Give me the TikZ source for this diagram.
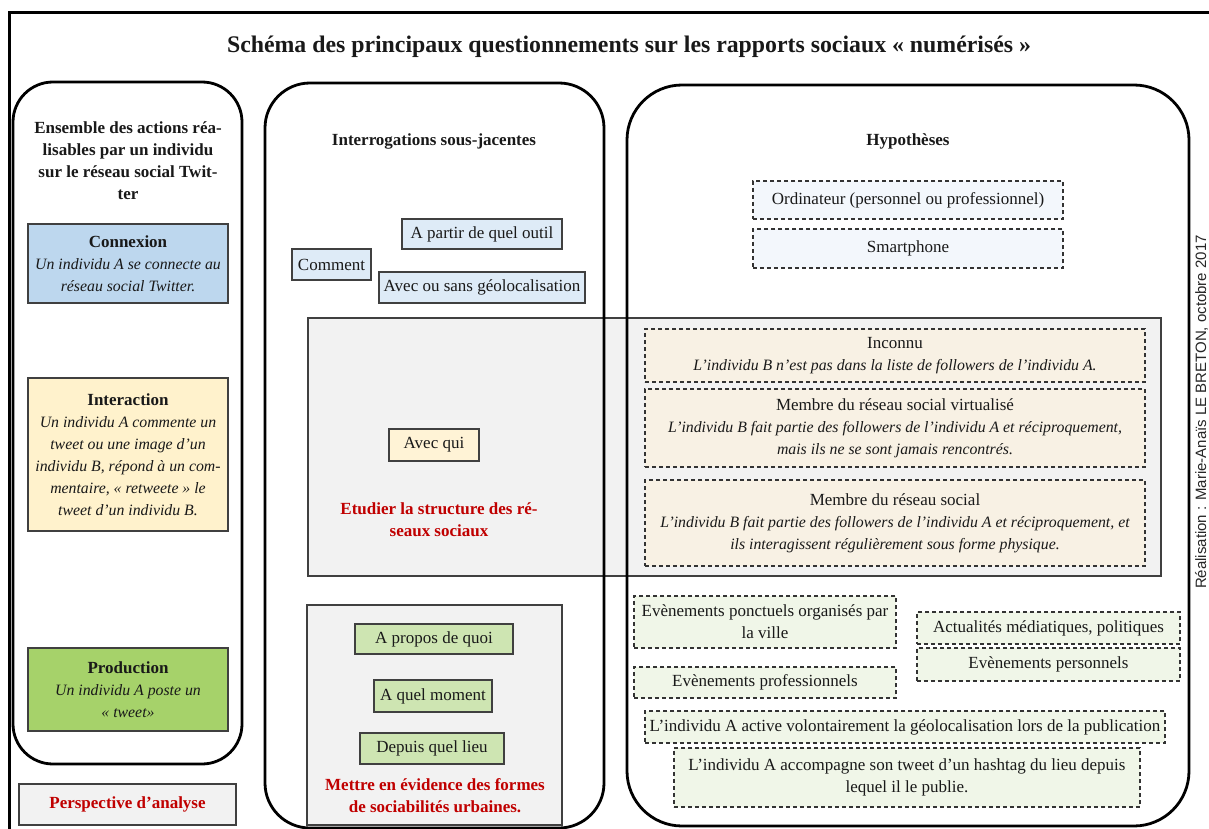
\documentclass[tikz,border=0pt]{standalone}
\usepackage{fontspec}
\setmainfont{Liberation Serif}
\newfontfamily\creditfont{Liberation Sans}
\newcommand\itl{\fontsize{15.8}{22}\selectfont\itshape}
\definecolor{cnx}{RGB}{189,215,238}
\definecolor{itr}{RGB}{255,242,204}
\definecolor{prd}{RGB}{166,210,106}
\definecolor{qblue}{RGB}{222,235,247}
\definecolor{qcream}{RGB}{255,243,214}
\definecolor{qgreen}{RGB}{206,229,178}
\definecolor{grayf}{RGB}{242,242,242}
\definecolor{hblue}{RGB}{243,247,252}
\definecolor{hbeige}{RGB}{248,241,228}
\definecolor{hgreen}{RGB}{240,246,232}
\definecolor{redt}{RGB}{192,0,0}
\definecolor{ink}{RGB}{25,25,25}
\begin{document}
\begin{tikzpicture}[x=1pt,y=-1pt,
  txt/.style={inner sep=0pt, align=center, text=ink, font=\fontsize{17}{22}\selectfont},
  sq/.style={txt, draw=black!75, line width=1.3pt},
  hyp/.style={txt, draw=black!80, line width=1.2pt, dash pattern=on 4pt off 3pt},
  rbox/.style={draw=black, line width=2.8pt},
  graybox/.style={draw=black!75, line width=1.3pt, fill=grayf, inner sep=0pt},
  head/.style={txt, font=\fontsize{17}{22}\selectfont\bfseries},
  redtxt/.style={txt, text=redt, font=\fontsize{17}{22}\selectfont\bfseries}
]
\useasboundingbox (0,0) rectangle (1209,829);
\fill[white] (0,0) rectangle (1209,829);

% outer frame
\draw[line width=3pt] (9,832) -- (9,13) -- (1212,13);

% title
\node[txt, font=\fontsize{23.8}{28}\selectfont\bfseries] (title) at (629,47)
  {Schéma des principaux questionnements sur les rapports sociaux «~numérisés~»};

% gray panels
\node[graybox, minimum width=853, minimum height=258] (grayA) at (734.5,447) {};
\node[graybox, minimum width=255, minimum height=220] (grayB) at (434.5,715) {};

% rounded columns
\draw[rbox, rounded corners=40pt] (13,82) rectangle (242,764);
\draw[rbox, rounded corners=45pt] (265,83) rectangle (604,828);
\draw[rbox, rounded corners=55pt] (627,85) rectangle (1189,826);

% left column
\node[head] (lhead) at (128,161) {Ensemble des actions réa-\\lisables par un individu\\sur le réseau social Twit-\\ter};
\node[sq, fill=cnx, minimum width=200, minimum height=79] (cnxn) at (128,263.5)
  {\textbf{Connexion}\\\itl Un individu A se connecte au\\\itl réseau social Twitter.};
\node[sq, fill=itr, minimum width=200, minimum height=153] (intr) at (128,454.5)
  {\textbf{Interaction}\\\itl Un individu A commente un\\\itl tweet ou une image d’un\\\itl individu B, répond à un com-\\\itl mentaire, «~retweete~» le\\\itl tweet d’un individu B.};
\node[sq, fill=prd, minimum width=200, minimum height=83] (prod) at (128,689.5)
  {\textbf{Production}\\\itl Un individu A poste un\\\itl «~tweet»};
\node[sq, fill=grayf, minimum width=217, minimum height=41, text=redt, font=\fontsize{17}{22}\selectfont\bfseries] (persp) at (127.5,804.5)
  {Perspective d’analyse};

% middle column
\node[head] (mhead) at (434,141) {Interrogations sous-jacentes};
\node[sq, fill=qblue, minimum width=160, minimum height=30] (outil) at (482,234) {A partir de quel outil};
\node[sq, fill=qblue, minimum width=79, minimum height=31] (comment) at (331.5,264.5) {Comment};
\node[sq, fill=qblue, minimum width=206, minimum height=31] (geoloc) at (482,287.5) {Avec ou sans géolocalisation};
\node[sq, fill=qcream, minimum width=90, minimum height=32] (avecqui) at (434,445) {Avec qui};
\node[redtxt] (etud) at (439,520) {Etudier la structure des ré-\\seaux sociaux};
\node[sq, fill=qgreen, minimum width=158, minimum height=30] (apropos) at (434,639) {A propos de quoi};
\node[sq, fill=qgreen, minimum width=118, minimum height=32] (moment) at (433,696) {A quel moment};
\node[sq, fill=qgreen, minimum width=144, minimum height=31] (lieu) at (432,748.5) {Depuis quel lieu};
\node[redtxt] (mettre) at (435,796) {Mettre en évidence des formes\\de sociabilités urbaines.};

% right column
\node[head] (rhead) at (908,141) {Hypothèses};
\node[hyp, fill=hblue, minimum width=310, minimum height=38] (ordi) at (908,200) {Ordinateur (personnel ou professionnel)};
\node[hyp, fill=hblue, minimum width=310, minimum height=39] (smart) at (908,248.5) {Smartphone};
\node[hyp, fill=hbeige, minimum width=500, minimum height=53] (inconnu) at (895,355.5)
  {Inconnu\\\itl L’individu B n’est pas dans la liste de followers de l’individu A.};
\node[hyp, fill=hbeige, minimum width=500, minimum height=78] (virt) at (895,428)
  {Membre du réseau social virtualisé\\\itl L’individu B fait partie des followers de l’individu A et réciproquement,\\\itl mais ils ne se sont jamais rencontrés.};
\node[hyp, fill=hbeige, minimum width=500, minimum height=86] (membre) at (895,523)
  {Membre du réseau social\\\itl L’individu B fait partie des followers de l’individu A et réciproquement, et\\\itl ils interagissent régulièrement sous forme physique.};
\node[hyp, fill=hgreen, minimum width=262, minimum height=52] (ponct) at (765,622)
  {Evènements ponctuels organisés par\\la ville};
\node[hyp, fill=hgreen, minimum width=263, minimum height=32] (actu) at (1048.5,628) {Actualités médiatiques, politiques};
\node[hyp, fill=hgreen, minimum width=263, minimum height=33] (perso) at (1048.5,664.5) {Evènements personnels};
\node[hyp, fill=hgreen, minimum width=262, minimum height=31] (profess) at (765,682.5) {Evènements professionnels};
\node[hyp, fill=hgreen, minimum width=520, minimum height=32] (active) at (905,727)
  {L’individu A active volontairement la géolocalisation lors de la publication};
\node[hyp, fill=hgreen, minimum width=466, minimum height=59] (accomp) at (907,777.5)
  {L’individu A accompagne son tweet d’un hashtag du lieu depuis\\lequel il le publie.};

% credit
\node[rotate=90, anchor=base, inner sep=0pt, font=\creditfont\fontsize{15}{18}\selectfont, text=black!85] (credit) at (1206,412)
  {Réalisation : Marie-Anaïs LE BRETON, octobre 2017};
\end{tikzpicture}
\end{document}
